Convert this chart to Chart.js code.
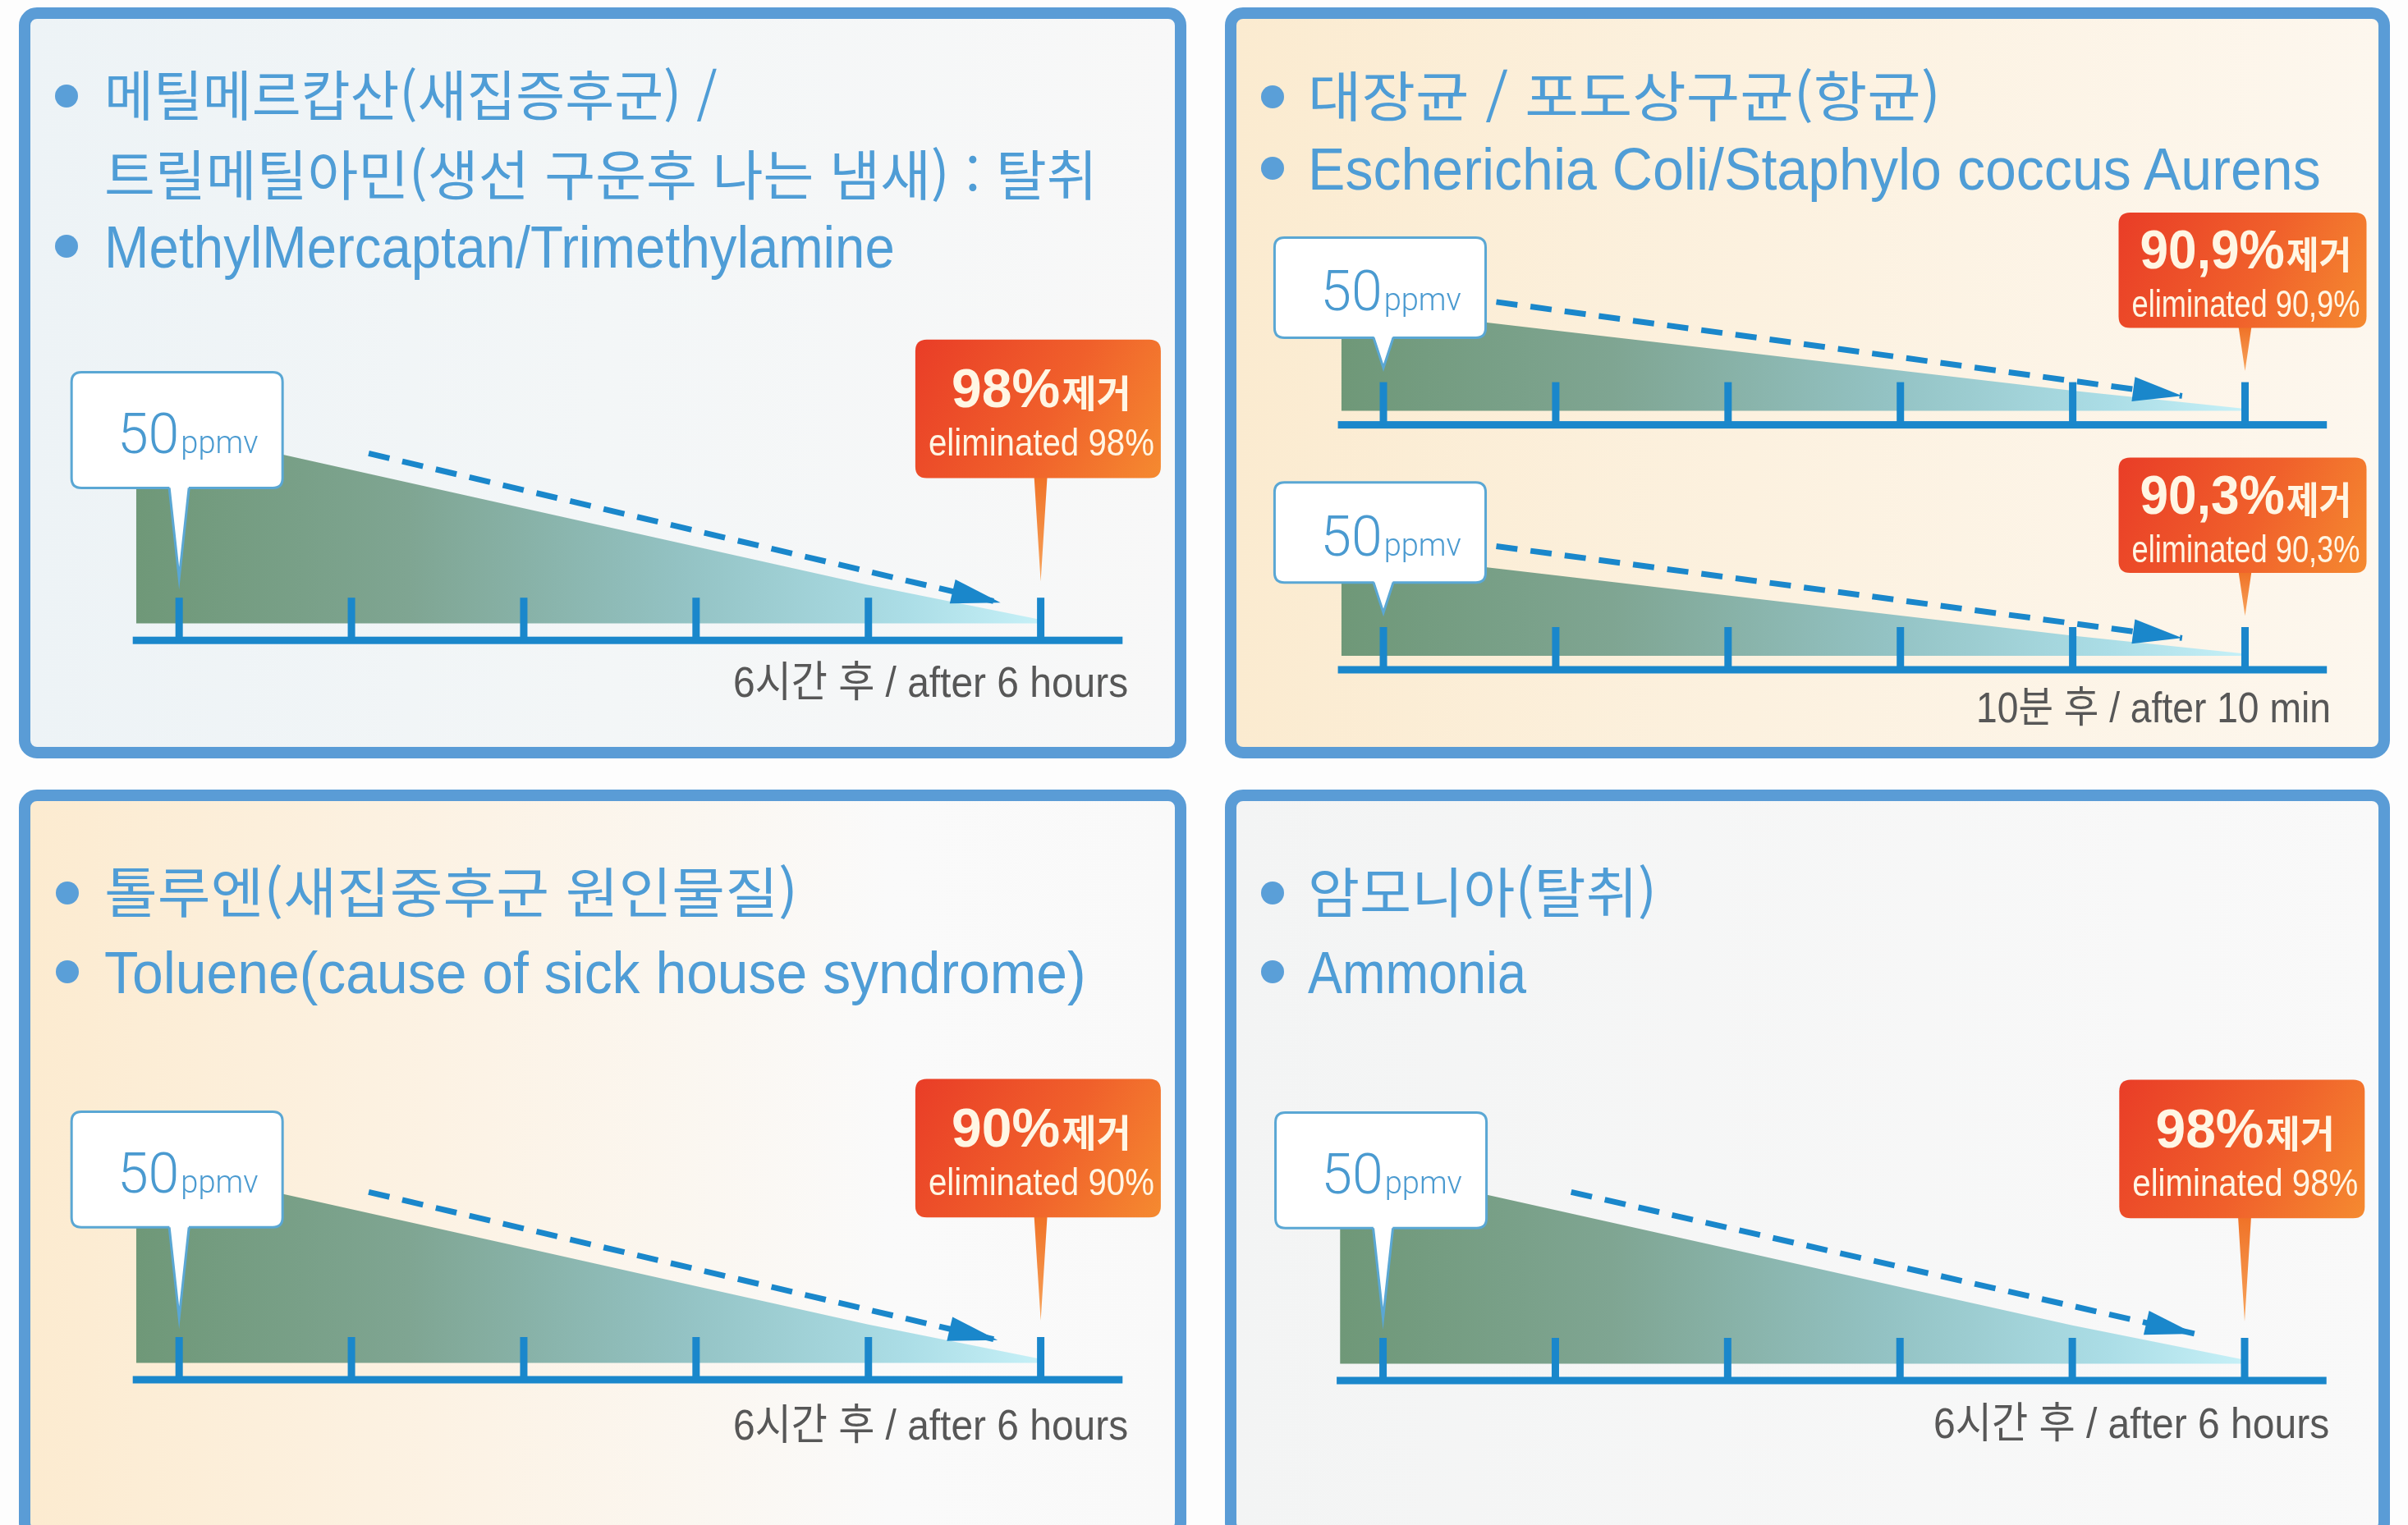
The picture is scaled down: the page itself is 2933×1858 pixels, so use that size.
<!DOCTYPE html>
<html lang="ko">
<head>
<meta charset="utf-8">
<title>탈취 / 항균 성능</title>
<script src="https://cdn.jsdelivr.net/npm/chart.js@4.4.1/dist/chart.umd.min.js"></script>
<style>
  html, body { margin: 0; padding: 0; background: #fdfdfd; }
  #page { position: relative; width: 2933px; height: 1858px; overflow: hidden; background: #fdfdfd; }
  .panel { position: absolute; box-sizing: border-box; border: 14px solid #5a9cd6; border-radius: 22px; }
  .line { position: absolute; white-space: nowrap; color: #4f9dd6; line-height: 1; transform-origin: 0 50%; }
  .kr { font-family: "Noto Sans CJK KR", sans-serif; font-size: 66px; }
  .en { font-family: "Liberation Sans", Arial, sans-serif; font-size: 72px; }
  .dot { position: absolute; width: 28px; height: 28px; border-radius: 50%; background: #5a9fd8; }
  .cap { position: absolute; white-space: nowrap; color: #575757; font-family: "Liberation Sans", "Noto Sans CJK KR", sans-serif; font-size: 52px; line-height: 1; transform-origin: 0 50%; }
  canvas { position: absolute; }
</style>
</head>
<body>
<div id="page">
  <div class="panel" style="left:23px;top:9px;width:1422px;height:915px;background:linear-gradient(90deg,#edf3f6 0%,#f3f6f7 50%,#f8f8f8 100%);"></div>
  <div class="panel" style="left:1492px;top:9px;width:1419px;height:915px;background:linear-gradient(90deg,#fbebd0 0%,#fcf1df 45%,#fdf7ee 100%);"></div>
  <div class="panel" style="left:23px;top:962px;width:1422px;height:915px;background:linear-gradient(90deg,#fcebd0 0%,#fcf3e6 40%,#fafafa 75%,#f9f9f9 100%);"></div>
  <div class="panel" style="left:1492px;top:962px;width:1419px;height:915px;background:linear-gradient(90deg,#f3f4f4 0%,#f9f9f9 100%);"></div>

  <div class="dot" style="left:67px;top:103px;"></div>
  <div class="line kr" style="left:127px;top:79px;" data-w="747">메틸메르캅산(새집증후군) /</div>
  <div class="line kr" style="left:127px;top:176px;" data-w="1210">트릴메틸아민(생선 구운후 나는 냄새) : 탈취</div>
  <div class="dot" style="left:67px;top:286px;"></div>
  <div class="line en" style="left:127px;top:265px;" data-w="963">MethylMercaptan/Trimethylamine</div>

  <div class="dot" style="left:1536px;top:104px;"></div>
  <div class="line kr" style="left:1593px;top:80px;" data-w="771">대장균 / 포도상구균(항균)</div>
  <div class="dot" style="left:1536px;top:191px;"></div>
  <div class="line en" style="left:1593px;top:170px;" data-w="1234">Escherichia Coli/Staphylo coccus Aurens</div>

  <div class="dot" style="left:68px;top:1074px;"></div>
  <div class="line kr" style="left:127px;top:1050px;" data-w="845">톨루엔(새집중후군 원인물질)</div>
  <div class="dot" style="left:68px;top:1170px;"></div>
  <div class="line en" style="left:127px;top:1149px;" data-w="1196">Toluene(cause of sick house syndrome)</div>

  <div class="dot" style="left:1536px;top:1074px;"></div>
  <div class="line kr" style="left:1593px;top:1050px;" data-w="425">암모니아(탈취)</div>
  <div class="dot" style="left:1536px;top:1170px;"></div>
  <div class="line en" style="left:1593px;top:1149px;" data-w="266">Ammonia</div>

  <div class="cap" style="left:893px;top:805px;" data-w="481">6시간 후 / after 6 hours</div>
  <div class="cap" style="left:2407px;top:836px;" data-w="432">10분 후 / after 10 min</div>
  <div class="cap" style="left:893px;top:1710px;" data-w="481">6시간 후 / after 6 hours</div>
  <div class="cap" style="left:2355px;top:1708px;" data-w="482">6시간 후 / after 6 hours</div>

  <canvas id="methyl"></canvas>
  <canvas id="ecoli"></canvas>
  <canvas id="staph"></canvas>
  <canvas id="toluene"></canvas>
  <canvas id="ammonia"></canvas>
</div>
<script>
// time axes (marks on the axis) and sample times of the curves
const hourTicks = [0, 1.2, 2.4, 3.6, 4.8, 6];
const minuteTicks = [0, 2, 4, 6, 8, 10];
const hourTimes = [-0.3, 0, 1.2, 2.4, 3.6, 4.8, 6];
const minuteTimes = [-0.49, 0, 2, 4, 6, 8, 10];

// concentration (ppmv)
const methylPpmv = [52.5, 50, 40, 30, 20, 10, 1];
const ecoliPpmv = [52.7, 50, 40, 30, 20, 10, 1];
const staphPpmv = [52.7, 50, 40, 30, 20, 10, 1];
const toluenePpmv = [52.5, 50, 40, 30, 20, 10, 1];
const ammoniaPpmv = [52.5, 50, 40, 30, 20, 10, 1];

// dashed trend arrows, start and end
const methylArrowX = [1.32, 5.72];
const methylArrowY = [44.3, 5.4];
const ecoliArrowX = [1.31, 9.27];
const ecoliArrowY = [54.2, 7.4];
const staphArrowX = [1.31, 9.27];
const staphArrowY = [54.5, 8.8];
const tolueneArrowX = [1.32, 5.70];
const tolueneArrowY = [44.5, 5.9];
const ammoniaArrowX = [1.31, 5.65];
const ammoniaArrowY = [44.7, 7.8];

const startValue = '50';
const startUnit = 'ppmv';
const removal = ['98%', '90,9%', '90,3%', '90%', '98%'];

const BLUE = '#1a87cb';

const bigBoxes = {
  start: { dx1: -131, dx2: 126, dy1: -326.6, dy2: -185.7, tipDy: -75.5 },
  end: { dx1: -152.7, dx2: 146.3, dy1: -366.4, dy2: -197.7, tipDy: -72 }
};
const smallBoxes = {
  start: { dx1: -132.6, dx2: 124.5, dy1: -228.2, dy2: -106.2, tipDy: -69.5 },
  end: { dx1: -154, dx2: 148, dy1: -258.5, dy2: -118, tipDy: -65.7 }
};

function roundRect(ctx, x, y, w, h, r) {
  ctx.beginPath();
  ctx.moveTo(x + r, y);
  ctx.lineTo(x + w - r, y);
  ctx.quadraticCurveTo(x + w, y, x + w, y + r);
  ctx.lineTo(x + w, y + h - r);
  ctx.quadraticCurveTo(x + w, y + h, x + w - r, y + h);
  ctx.lineTo(x + r, y + h);
  ctx.quadraticCurveTo(x, y + h, x, y + h - r);
  ctx.lineTo(x, y + r);
  ctx.quadraticCurveTo(x, y, x + r, y);
  ctx.closePath();
}

const decayPlugin = {
  id: 'decay',
  afterDatasetDraw(chart, args, opts) {
    if (args.index !== 0) return;
    const { ctx, chartArea } = chart;
    const xs = chart.scales.x, ys = chart.scales.y;
    const yAxis = ys.getPixelForValue(ys.min);
    ctx.save();
    ctx.fillStyle = BLUE;
    ctx.fillRect(chartArea.left - 4, yAxis - 4.5, chartArea.right - chartArea.left + 4, 9);
    opts.ticks.forEach(t => {
      const x = xs.getPixelForValue(t);
      ctx.fillRect(x - 4.5, yAxis - 52, 9, 52);
    });
    ctx.restore();
  },
  afterDatasetsDraw(chart, args, opts) {
    const { ctx } = chart;
    const xs = chart.scales.x, ys = chart.scales.y;
    const yAxis = ys.getPixelForValue(ys.min);

    // arrow head
    const pts = chart.getDatasetMeta(1).data;
    const a = pts[pts.length - 2], b = pts[pts.length - 1];
    const ang = Math.atan2(b.y - a.y, b.x - a.x);
    ctx.save();
    ctx.translate(b.x, b.y);
    ctx.rotate(ang);
    ctx.fillStyle = BLUE;
    ctx.beginPath();
    ctx.moveTo(0, 0);
    ctx.lineTo(-60, -15);
    ctx.lineTo(-60, 15);
    ctx.closePath();
    ctx.fill();
    ctx.restore();

    // start callout (50ppmv)
    const x0 = xs.getPixelForValue(opts.ticks[0]);
    const s = opts.boxes.start;
    const sx = x0 + s.dx1, sy = yAxis + s.dy1, sw = s.dx2 - s.dx1, sh = s.dy2 - s.dy1;
    ctx.save();
    ctx.fillStyle = '#ffffff';
    ctx.strokeStyle = '#5aa7d4';
    ctx.lineWidth = 3;
    roundRect(ctx, sx, sy, sw, sh, 12);
    ctx.fill();
    ctx.stroke();
    const tip = yAxis + s.tipDy;
    ctx.beginPath();
    ctx.moveTo(x0 - 12, sy + sh - 3);
    ctx.lineTo(x0, tip);
    ctx.lineTo(x0 + 12, sy + sh - 3);
    ctx.closePath();
    ctx.fill();
    ctx.beginPath();
    ctx.moveTo(x0 - 12, sy + sh);
    ctx.lineTo(x0, tip);
    ctx.lineTo(x0 + 12, sy + sh);
    ctx.stroke();
    ctx.fillStyle = '#4a9ad0';
    ctx.textBaseline = 'alphabetic';
    ctx.font = '300 68px Roboto, "Liberation Sans", sans-serif';
    const w50 = ctx.measureText(opts.startValue).width;
    ctx.font = '300 38px Roboto, "Liberation Sans", sans-serif';
    const wUnit = ctx.measureText(opts.startUnit).width;
    const tx = sx + sw / 2 + 13 - (w50 + wUnit + 2) / 2;
    const ty = sy + sh / 2 + 28;
    ctx.font = '300 68px Roboto, "Liberation Sans", sans-serif';
    ctx.fillText(opts.startValue, tx, ty);
    ctx.font = '300 38px Roboto, "Liberation Sans", sans-serif';
    ctx.fillText(opts.startUnit, tx + w50 + 2, ty);
    ctx.restore();

    // end callout (removal rate)
    const xN = xs.getPixelForValue(opts.ticks[opts.ticks.length - 1]);
    const e = opts.boxes.end;
    const ex = xN + e.dx1, ey = yAxis + e.dy1, ew = e.dx2 - e.dx1, eh = e.dy2 - e.dy1;
    ctx.save();
    const tipE = yAxis + e.tipDy;
    const tg = ctx.createLinearGradient(0, ey + eh, 0, tipE);
    tg.addColorStop(0, '#f07328');
    tg.addColorStop(1, '#f7a45c');
    ctx.fillStyle = tg;
    ctx.beginPath();
    ctx.moveTo(xN - 8, ey + eh - 2);
    ctx.lineTo(xN, tipE);
    ctx.lineTo(xN + 8, ey + eh - 2);
    ctx.closePath();
    ctx.fill();
    const bg = ctx.createLinearGradient(ex, ey, ex + ew, ey + eh);
    bg.addColorStop(0, '#e93d27');
    bg.addColorStop(0.55, '#f0602b');
    bg.addColorStop(1, '#f58a30');
    ctx.fillStyle = bg;
    roundRect(ctx, ex, ey, ew, eh, 14);
    ctx.fill();

    ctx.fillStyle = '#fff6e4';
    const cx = ex + ew / 2 + 4;
    const cy = ey + eh / 2;
    ctx.font = 'bold 66px "Liberation Sans", Arial, sans-serif';
    const wPct = ctx.measureText(opts.pct).width;
    ctx.font = 'bold 46px "Noto Sans CJK KR", sans-serif';
    const wKr = ctx.measureText('제거').width;
    const total = wPct + wKr + 2;
    const sc = Math.min(1, (ew - 44) / total);
    ctx.save();
    ctx.translate(cx - total * sc / 2, cy - 2);
    ctx.scale(sc, 1);
    ctx.font = 'bold 66px "Liberation Sans", Arial, sans-serif';
    ctx.fillText(opts.pct, 0, 0);
    ctx.font = 'bold 46px "Noto Sans CJK KR", sans-serif';
    ctx.fillText('제거', wPct + 2, 0);
    ctx.restore();
    ctx.font = '46px "Liberation Sans", Arial, sans-serif';
    ctx.textAlign = 'center';
    ctx.fillText('eliminated ' + opts.pct, cx, cy + 57, ew - 24);
    ctx.restore();
  }
};

function makeChart(id, frame, area, times, ppmv, arrowX, arrowY, ticks, xMin, xMax, yMin, yMax, boxes, pct) {
  const canvas = document.getElementById(id);
  canvas.width = frame.width;
  canvas.height = frame.height;
  canvas.style.left = frame.left + 'px';
  canvas.style.top = frame.top + 'px';
  const lastTime = times[times.length - 1];

  return new Chart(canvas, {
    type: 'line',
    data: {
      datasets: [
        {
          data: times.map((t, i) => ({ x: t, y: ppmv[i] })),
          order: 2,
          fill: 'origin',
          borderWidth: 0,
          pointRadius: 0,
          tension: 0,
          backgroundColor: function(context) {
            const chart = context.chart;
            const { ctx, chartArea } = chart;
            if (!chartArea) return 'rgba(0,0,0,0)';
            const g = ctx.createLinearGradient(chartArea.left, 0, chart.scales.x.getPixelForValue(lastTime), 0);
            g.addColorStop(0, '#6f9878');
            g.addColorStop(0.3, '#7fa592');
            g.addColorStop(0.6, '#93c2c3');
            g.addColorStop(0.85, '#abdde6');
            g.addColorStop(1, '#c6f0f7');
            return g;
          }
        },
        {
          data: arrowX.map((x, i) => ({ x: x, y: arrowY[i] })),
          order: 1,
          fill: false,
          borderColor: BLUE,
          borderWidth: 7,
          borderDash: [26, 16],
          borderCapStyle: 'butt',
          pointRadius: 0
        }
      ]
    },
    options: {
      responsive: false,
      animation: false,
      events: [],
      layout: {
        padding: {
          left: area.left - frame.left,
          right: frame.left + frame.width - area.right,
          top: area.top - frame.top,
          bottom: frame.top + frame.height - area.bottom
        }
      },
      scales: {
        x: { type: 'linear', min: xMin, max: xMax, display: false },
        y: { type: 'linear', min: yMin, max: yMax, display: false }
      },
      plugins: {
        legend: { display: false },
        tooltip: { enabled: false },
        decay: { ticks: ticks, boxes: boxes, pct: pct, startValue: startValue, startUnit: startUnit }
      }
    },
    plugins: [decayPlugin]
  });
}

function fitText() {
  document.querySelectorAll('[data-w]').forEach(el => {
    const w = el.offsetWidth;
    el.style.transform = 'scaleX(' + (parseFloat(el.dataset.w) / w) + ')';
  });
}

function build() {
  fitText();
  makeChart('methyl', { left: 60, top: 390, width: 1380, height: 410 },
    { left: 165.7, right: 1367.3, top: 479, bottom: 780.2 },
    hourTimes, methylPpmv, methylArrowX, methylArrowY, hourTicks, -0.3, 6.57, -4.4, 60, bigBoxes, removal[0]);
  makeChart('ecoli', { left: 1520, top: 240, width: 1385, height: 300 },
    { left: 1633.6, right: 2834.2, top: 353.7, bottom: 517.6 },
    minuteTimes, ecoliPpmv, ecoliArrowX, ecoliArrowY, minuteTicks, -0.49, 10.95, -7, 60, smallBoxes, removal[1]);
  makeChart('staph', { left: 1520, top: 540, width: 1385, height: 300 },
    { left: 1633.6, right: 2834.2, top: 652.1, bottom: 816 },
    minuteTimes, staphPpmv, staphArrowX, staphArrowY, minuteTicks, -0.49, 10.95, -7, 60, smallBoxes, removal[2]);
  makeChart('toluene', { left: 60, top: 1290, width: 1380, height: 410 },
    { left: 165.7, right: 1367.3, top: 1379.8, bottom: 1681 },
    hourTimes, toluenePpmv, tolueneArrowX, tolueneArrowY, hourTicks, -0.3, 6.57, -4.4, 60, bigBoxes, removal[3]);
  makeChart('ammonia', { left: 1520, top: 1290, width: 1385, height: 410 },
    { left: 1632.1, right: 2833.7, top: 1380.8, bottom: 1682 },
    hourTimes, ammoniaPpmv, ammoniaArrowX, ammoniaArrowY, hourTicks, -0.3, 6.57, -4.4, 60, bigBoxes, removal[4]);
}

if (document.fonts && document.fonts.ready) {
  document.fonts.ready.then(build);
} else {
  build();
}
</script>
</body>
</html>
